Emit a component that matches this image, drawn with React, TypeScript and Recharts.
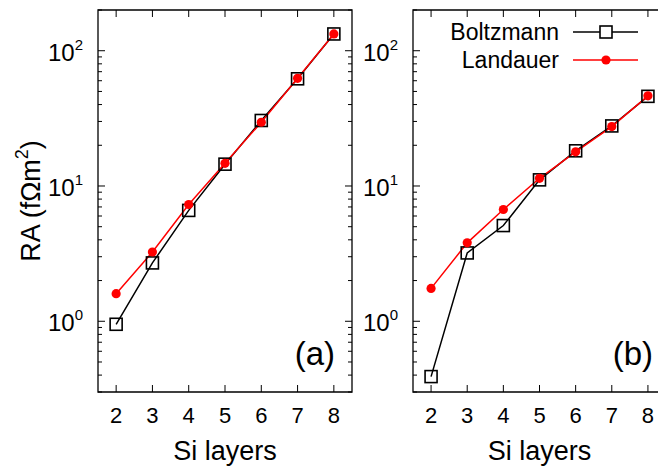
import React from "react"
import { LineChart, Line, XAxis, YAxis, ReferenceArea, Legend } from "recharts"

const layers = [2, 3, 4, 5, 6, 7, 8]

const boltzmannA = [0.95, 2.7, 6.6, 14.5, 30.5, 62, 133]
const landauerA = [1.6, 3.25, 7.3, 14.7, 29.6, 62.5, 133]

const boltzmannB = [0.39, 3.2, 5.1, 11.1, 18.2, 27.8, 46]
const landauerB = [1.75, 3.8, 6.7, 11.4, 17.9, 27.5, 46.4]

const seriesNames = ["Boltzmann", "Landauer"]

const yMajor = [1, 10, 100]
const yMajorExp = ["0", "1", "2"]
const yTicks = [
  0.3, 0.4, 0.5, 0.6, 0.7, 0.8, 0.9, 1, 2, 3, 4, 5, 6, 7, 8, 9, 10, 20, 30, 40, 50, 60, 70, 80, 90, 100, 200,
]

const FONT = "'Liberation Sans', Arial, Helvetica, sans-serif"
const RED = "#ff0000"

function makeRows(b: number[], l: number[]) {
  return layers.map((n, i) => ({ layers: n, boltzmann: b[i], landauer: l[i] }))
}

function makeYTick(plotW: number) {
  return function YTick(props: any) {
    const { x, y, payload } = props
    const idx = yMajor.indexOf(payload.value)
    const len = idx >= 0 ? 7 : 4
    return (
      <g>
        <line x1={x} y1={y} x2={x + len} y2={y} stroke="#000" strokeWidth={1} />
        <line x1={x + plotW} y1={y} x2={x + plotW - len} y2={y} stroke="#000" strokeWidth={1} />
        {idx >= 0 && (
          <text x={x - 15} y={y + 10} textAnchor="end" fontFamily={FONT} fontSize={24} fill="#000">
            10
            <tspan dy={-11} fontSize={15}>
              {yMajorExp[idx]}
            </tspan>
          </text>
        )}
      </g>
    )
  }
}

function makeXTick(plotH: number) {
  return function XTick(props: any) {
    const { x, y, payload } = props
    return (
      <g>
        <line x1={x} y1={y} x2={x} y2={y - 7} stroke="#000" strokeWidth={1} />
        <line x1={x} y1={y - plotH} x2={x} y2={y - plotH + 7} stroke="#000" strokeWidth={1} />
        <text x={x} y={y + 31} textAnchor="middle" fontFamily={FONT} fontSize={22} fill="#000">
          {payload.value}
        </text>
      </g>
    )
  }
}

function XTitle(props: any) {
  const { viewBox } = props
  return (
    <text
      x={viewBox.x + viewBox.width / 2}
      y={viewBox.y + 68}
      textAnchor="middle"
      fontFamily={FONT}
      fontSize={27}
      fill="#000"
    >
      Si layers
    </text>
  )
}

function YTitle() {
  return (
    <text
      x={40}
      y={201}
      transform="rotate(-90, 40, 201)"
      textAnchor="middle"
      fontFamily={FONT}
      fontSize={27}
      fill="#000"
    >
      RA (fΩm
      <tspan dy={-12} fontSize={18}>
        2
      </tspan>
      <tspan dy={12}>)</tspan>
    </text>
  )
}

function PanelTag(props: any) {
  const { viewBox, text, dx } = props
  return (
    <text
      x={viewBox.x + viewBox.width - dx}
      y={viewBox.y + viewBox.height - 27}
      textAnchor="end"
      fontFamily={FONT}
      fontSize={33}
      fill="#000"
    >
      {text}
    </text>
  )
}

function Square(props: any) {
  const { cx, cy, index } = props
  return <rect key={`sq-${index}`} x={cx - 6} y={cy - 6} width={12} height={12} fill="none" stroke="#000" strokeWidth={1.6} />
}

function Circle(props: any) {
  const { cx, cy, index } = props
  return <circle key={`ci-${index}`} cx={cx} cy={cy} r={4.6} fill={RED} stroke="none" />
}

function LegendBox() {
  return (
    <svg width={350} height={80} style={{ display: "block" }}>
      <text x={229} y={40} textAnchor="end" fontFamily={FONT} fontSize={23} fill="#000">
        {seriesNames[0]}
      </text>
      <line x1={243} y1={32} x2={308} y2={32} stroke="#000" strokeWidth={1.5} />
      <rect x={270} y={26} width={12} height={12} fill="#fff" stroke="#000" strokeWidth={1.6} />
      <text x={229} y={68} textAnchor="end" fontFamily={FONT} fontSize={23} fill="#000">
        {seriesNames[1]}
      </text>
      <line x1={243} y1={60} x2={308} y2={60} stroke={RED} strokeWidth={1.5} />
      <circle cx={276} cy={60} r={4.6} fill={RED} />
    </svg>
  )
}

interface PanelProps {
  rows: { layers: number; boltzmann: number; landauer: number }[]
  width: number
  margin: { top: number; right: number; bottom: number; left: number }
  tag: string
  tagDx: number
  yTitle?: boolean
  legend?: boolean
}

function Panel({ rows, width, margin, tag, tagDx, yTitle, legend }: PanelProps) {
  const height = 466
  // axes take 1px each, so the plot box is margin + 1
  const plotW = width - margin.left - 1 - margin.right
  const plotH = height - margin.top - margin.bottom - 1
  return (
    <LineChart width={width} height={height} data={rows} margin={margin}>
      <XAxis
        dataKey="layers"
        type="number"
        domain={[1.5, 8.5]}
        ticks={layers}
        interval={0}
        height={1}
        tickSize={0}
        tickMargin={0}
        axisLine={false}
        tickLine={false}
        tick={makeXTick(plotH)}
        label={<XTitle />}
      />
      <YAxis
        scale="log"
        domain={[0.3, 200]}
        allowDataOverflow
        ticks={yTicks}
        interval={0}
        width={1}
        tickSize={0}
        tickMargin={0}
        axisLine={false}
        tickLine={false}
        tick={makeYTick(plotW)}
        label={yTitle ? <YTitle /> : undefined}
      />
      <ReferenceArea
        x1={1.5}
        x2={8.5}
        y1={0.3}
        y2={200}
        fill="none"
        stroke="#000"
        strokeWidth={1.3}
        ifOverflow="visible"
        label={<PanelTag text={tag} dx={tagDx} />}
      />
      {legend && (
        <Legend
          layout="horizontal"
          verticalAlign="middle"
          align="center"
          content={<LegendBox />}
          wrapperStyle={{ position: "absolute", left: 0, top: 0, width: 350, height: 80 }}
        />
      )}
      <Line
        dataKey="boltzmann"
        name={seriesNames[0]}
        stroke="#000"
        strokeWidth={1.5}
        dot={Square}
        isAnimationActive={false}
      />
      <Line
        dataKey="landauer"
        name={seriesNames[1]}
        stroke={RED}
        strokeWidth={1.5}
        dot={Circle}
        isAnimationActive={false}
      />
    </LineChart>
  )
}

export default function App() {
  return (
    <div
      style={{
        position: "absolute",
        left: 0,
        top: 0,
        width: 658,
        height: 466,
        overflow: "hidden",
        background: "#fff",
      }}
    >
      <div style={{ position: "absolute", left: 0, top: 0 }}>
        <Panel
          rows={makeRows(boltzmannA, landauerA)}
          width={360}
          margin={{ top: 10, right: 8, bottom: 73, left: 97 }}
          tag="(a)"
          tagDx={17}
          yTitle
        />
      </div>
      <div style={{ position: "absolute", left: 330, top: 0 }}>
        <Panel
          rows={makeRows(boltzmannB, landauerB)}
          width={350}
          margin={{ top: 10, right: 14, bottom: 73, left: 82 }}
          tag="(b)"
          tagDx={13}
          legend
        />
      </div>
    </div>
  )
}
